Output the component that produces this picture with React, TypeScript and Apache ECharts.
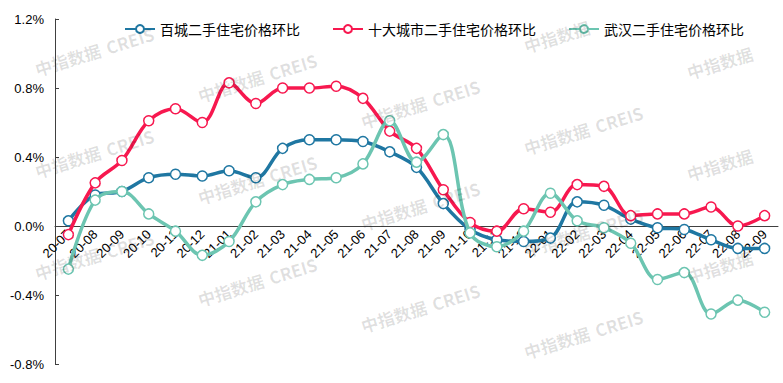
import React, { useEffect, useRef } from "react";
import * as echarts from "echarts";

const categories = [
  "20-07", "20-08", "20-09", "20-10", "20-11", "20-12",
  "21-01", "21-02", "21-03", "21-04", "21-05", "21-06",
  "21-07", "21-08", "21-09", "21-10", "21-11", "21-12",
  "22-01", "22-02", "22-03", "22-04", "22-05", "22-06",
  "22-07", "22-08", "22-09",
];

const seriesNames = ["百城二手住宅价格环比", "十大城市二手住宅价格环比", "武汉二手住宅价格环比"];

const baiCheng = [0.03, 0.18, 0.2, 0.28, 0.3, 0.29, 0.32, 0.28, 0.45, 0.5, 0.5, 0.49, 0.43, 0.34, 0.13, -0.02, -0.08, -0.09, -0.07, 0.14, 0.12, 0.04, -0.01, -0.02, -0.08, -0.13, -0.13];
const shiDa = [-0.05, 0.25, 0.38, 0.61, 0.68, 0.6, 0.83, 0.71, 0.8, 0.8, 0.81, 0.74, 0.55, 0.45, 0.21, 0.02, -0.03, 0.1, 0.08, 0.24, 0.23, 0.06, 0.07, 0.07, 0.11, 0.0, 0.06];
const wuHan = [-0.25, 0.15, 0.2, 0.07, -0.03, -0.17, -0.09, 0.14, 0.24, 0.27, 0.28, 0.36, 0.61, 0.37, 0.53, -0.04, -0.12, -0.03, 0.19, 0.03, -0.01, -0.1, -0.31, -0.27, -0.51, -0.43, -0.5];

const colors = ["#1f77a2", "#f7184f", "#6cc5b1"];

const wmPart1 = "中指数据";
const wmPart2 = "CREIS";

export default function App() {
  const ref = useRef<HTMLDivElement>(null);
  useEffect(() => {
    if (!ref.current) return;
    const chart = echarts.init(ref.current, undefined, { renderer: "svg" });
    const axisFont = "'Liberation Sans', Arial, sans-serif";
    const cjkFont = "'Noto Sans CJK SC', sans-serif";
    const data = [baiCheng, shiDa, wuHan];

    const rot = 0.3;
    const graphics: any[] = [];
    const wmStyle = {
      fill: "rgba(0,0,0,0.12)",
      font: "bold 17px 'Noto Sans CJK SC', sans-serif",
      align: "center",
      verticalAlign: "middle",
    };
    for (let c = 0; c < 5; c++) {
      for (let r = -1; r < 3; r++) {
        const cx = 95 + 163 * c;
        const cy = 51 + 26.3 * c + 102 * r;
        if (cy < 15 || cy > 345) continue;
        const p1x = cx - 28.5 * Math.cos(rot);
        const p1y = cy + 28.5 * Math.sin(rot);
        const p2x = cx + 36.5 * Math.cos(rot);
        const p2y = cy - 36.5 * Math.sin(rot);
        graphics.push({
          type: "text", x: p1x, y: p1y, rotation: rot, z: 100, silent: true,
          style: { ...wmStyle, text: wmPart1 },
        });
        if (p2x < 750 && p2y > 25) {
          graphics.push({
            type: "text", x: p2x, y: p2y, rotation: rot, z: 100, silent: true,
            style: { ...wmStyle, text: wmPart2 },
          });
        }
      }
    }

    chart.setOption({
      animation: false,
      backgroundColor: "#ffffff",
      color: colors,
      grid: { left: 55, right: 5, top: 19, bottom: 19, containLabel: false, outerBoundsMode: "none" },
      legend: {
        left: 119,
        top: 17,
        itemWidth: 30,
        itemHeight: 10,
        itemGap: 32,
        data: seriesNames,
        textStyle: { fontSize: 14, color: "#000", fontFamily: cjkFont },
      },
      xAxis: {
        type: "category",
        data: categories,
        boundaryGap: true,
        offset: -138,
        axisLine: { onZero: false, lineStyle: { color: "#404040", width: 1 } },
        axisTick: { inside: true, length: 4, lineStyle: { color: "#404040" } },
        axisLabel: {
          rotate: 45,
          interval: 0,
          fontSize: 13,
          color: "#000",
          fontFamily: axisFont,
          margin: 6,
        },
        splitLine: { show: false },
      },
      yAxis: {
        type: "value",
        min: -0.8,
        max: 1.2,
        interval: 0.4,
        axisLine: { show: true, lineStyle: { color: "#404040", width: 1 } },
        axisTick: { show: true, inside: true, length: 4, lineStyle: { color: "#404040" } },
        axisLabel: {
          fontSize: 13,
          color: "#000",
          fontFamily: axisFont,
          margin: 11,
          formatter: (v: number) => `${v.toFixed(1)}%`,
        },
        splitLine: { show: false },
      },
      series: seriesNames.map((name, i) => ({
        name,
        type: "line",
        data: data[i],
        smooth: 0.35,
        symbol: "circle",
        symbolSize: 10,
        showAllSymbol: true,
        lineStyle: { width: 3.5, color: colors[i] },
        itemStyle: { color: "#ffffff", borderColor: colors[i], borderWidth: 1.5 },
        z: 2 + i,
      })),
      graphic: graphics,
    });
    return () => chart.dispose();
  }, []);
  return (
    <div
      ref={ref}
      style={{ position: "fixed", left: 0, top: 0, width: 783, height: 383, background: "#fff" }}
    />
  );
}
